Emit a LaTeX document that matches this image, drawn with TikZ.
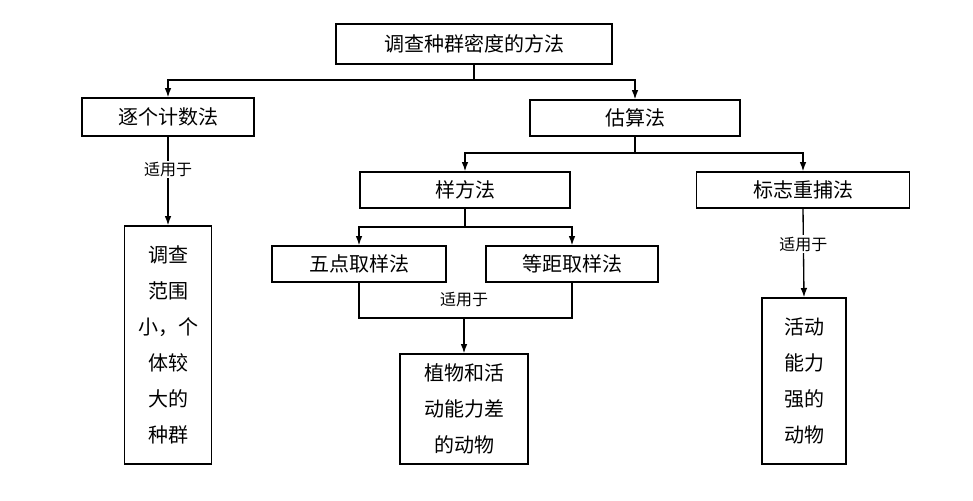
\documentclass[tikz,border=0pt]{standalone}
\usepackage{fontspec}
\setmainfont{Noto Sans CJK SC}
\begin{document}
\begin{tikzpicture}[x=0.75pt,y=-0.75pt,
 box/.style={draw,line width=1pt,inner sep=0pt,font=\fontsize{15}{18}\selectfont},
 tall/.style={box,align=center,font=\fontsize{15}{27}\selectfont},
 lab/.style={font=\fontsize{12}{14}\selectfont,fill=white,inner sep=1pt},
 ln/.style={line width=1pt},
 ar/.style={ln,-{Latex[length=7pt,width=5pt]}}]
\usetikzlibrary{arrows.meta}
\path[use as bounding box,fill=white] (0,0) rectangle (973,500);
\node[box,minimum width=276*0.75pt,minimum height=40*0.75pt] (top) at (474,44) {调查种群密度的方法};
\node[box,minimum width=172*0.75pt,minimum height=38*0.75pt] (zg) at (168,117) {逐个计数法};
\node[box,minimum width=210*0.75pt,minimum height=36*0.75pt] (gs) at (635,118) {估算法};
\node[tall,minimum width=87*0.75pt,minimum height=238*0.75pt] (l1) at (168,345) {调查\\范围\\小，个\\体较\\大的\\种群};
\node[box,minimum width=210*0.75pt,minimum height=36*0.75pt] (yf) at (465,190) {样方法};
\node[box,minimum width=213*0.75pt,minimum height=36*0.75pt] (bz) at (803,190) {标志重捕法};
\node[box,minimum width=174*0.75pt,minimum height=36*0.75pt] (wd) at (359,264) {五点取样法};
\node[box,minimum width=172*0.75pt,minimum height=36*0.75pt] (dj) at (572,264) {等距取样法};
\node[tall,minimum width=128*0.75pt,minimum height=110*0.75pt] (zw) at (464,409) {植物和活\\动能力差\\的动物};
\node[tall,minimum width=84*0.75pt,minimum height=166*0.75pt] (hd) at (804,381) {活动\\能力\\强的\\动物};
\coordinate (c1) at (474,80);
\draw[ln] (top.south) -- (c1);
\draw[ar] (c1) -| (zg.north);
\draw[ar] (c1) -| (gs.north);
\draw[ar] (zg.south) -- node[lab,pos=0.37]{适用于} (l1.north);
\coordinate (c2) at (635,153);
\draw[ln] (gs.south) -- (c2);
\draw[ar] (c2) -| (yf.north);
\draw[ar] (c2) -| (bz.north);
\coordinate (c3) at (465,227);
\draw[ln] (yf.south) -- (c3);
\draw[ar] (c3) -| (wd.north);
\draw[ar] (c3) -| (dj.north);
\coordinate (c4) at (464,318);
\draw[ln] (wd.south) |- (c4) -| (dj.south);
\draw[ar] (c4) -- (zw.north);
\node[lab,fill=none] at (464,300) {适用于};
\draw[ar] (bz.south) -- node[lab,pos=0.4]{适用于} (hd.north);
\end{tikzpicture}
\end{document}
